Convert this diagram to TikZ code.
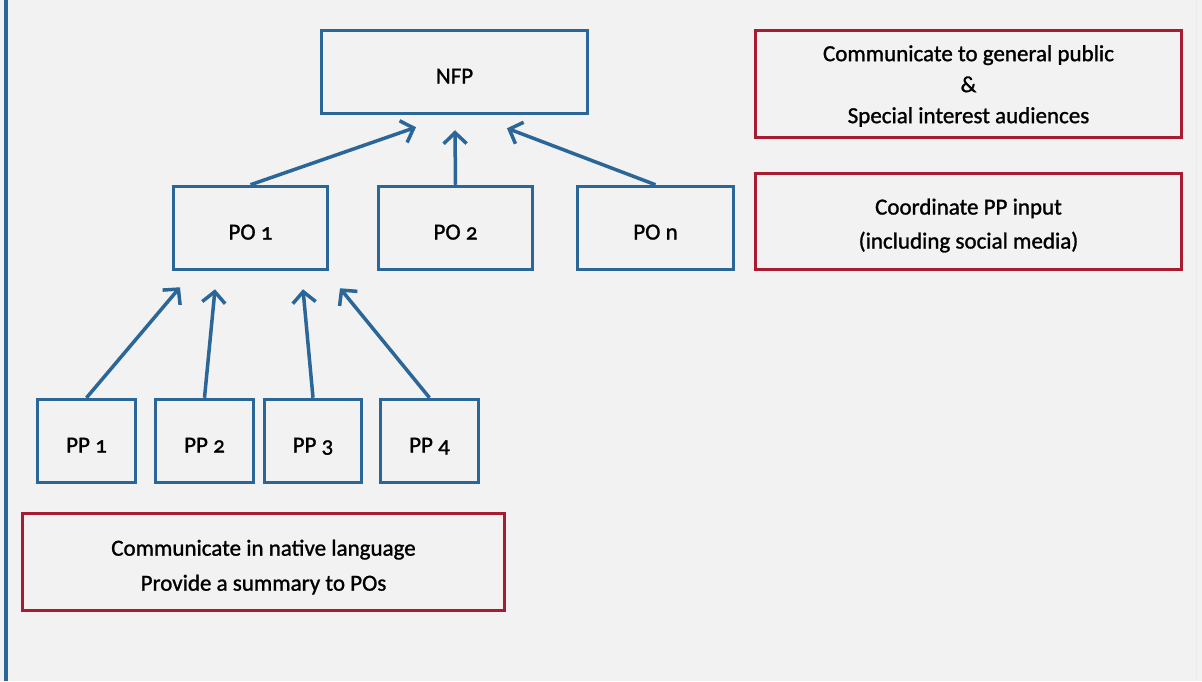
\documentclass[tikz,border=0pt]{standalone}
\usepackage{fontspec}
\setmainfont[Numbers=OldStyle,FakeBold=1.2]{Carlito}
\usetikzlibrary{arrows.meta,calc}
\definecolor{bg}{HTML}{F2F2F2}
\definecolor{blu}{HTML}{2A6698}
\definecolor{rd}{HTML}{A81C32}
\tikzset{
  bbox/.style={draw=blu,line width=3.5pt,inner sep=0pt,minimum height=83pt,align=center,
    text height=23pt,text depth=0pt,font=\fontsize{23}{27}\selectfont},
  rbox/.style={draw=rd,line width=3pt,inner sep=0pt,align=center},
  arr/.style={draw=blu,line width=3.5pt,-{Straight Barb[length=11pt,width=23pt,line width=3.5pt]}}
}
\begin{document}
\begin{tikzpicture}[x=1pt,y=-1pt]
\fill[bg] (0,0) rectangle (1202,681);
\useasboundingbox (0,0) rectangle (1202,681);
\draw[blu,line width=3.8pt] (5.7,0) -- (5.7,681);
\draw[black!8,line width=1pt] (1196.5,0) -- (1196.5,681);

\node[bbox,minimum width=266pt] (nfp) at (454.5,72) {NFP};
\node[bbox,minimum width=154pt] (po1) at (250.5,228) {PO 1};
\node[bbox,minimum width=154pt] (po2) at (455.5,228) {PO 2};
\node[bbox,minimum width=156pt] (pon) at (655.5,228) {PO n};

\node[bbox,minimum width=98pt] (pp1) at (86.5,441) {PP 1};
\node[bbox,minimum width=98pt] (pp2) at (204.5,441) {PP 2};
\node[bbox,minimum width=97pt] (pp3) at (313,441) {PP 3};
\node[bbox,minimum width=98pt] (pp4) at (429.5,441) {PP 4};

\node[rbox,minimum width=426pt,minimum height=107pt,font=\fontsize{23}{31}\selectfont] (r1) at (968.5,84)
  {\rule{0pt}{20pt}Communicate to general public\\ \&\\ Special interest audiences};
\node[rbox,minimum width=426pt,minimum height=96pt,font=\fontsize{23}{34}\selectfont] (r2) at (968.5,221.5)
  {\rule{0pt}{24pt}Coordinate PP input\\ (including social media)};
\node[rbox,minimum width=482pt,minimum height=97pt,font=\fontsize{23}{35}\selectfont] (r3) at (263.5,562)
  {\rule{0pt}{26pt}Communicate in native language\\ Provide a summary to POs};

\coordinate (t1) at ($(nfp.south)+(-38.5,12)$);
\coordinate (t2) at ($(nfp.south)+(0.5,15)$);
\coordinate (t3) at ($(nfp.south)+(52.5,13)$);
\draw[arr] (po1.north) -- (t1);
\draw[arr] (po2.north) -- (t2);
\draw[arr] (pon.north) -- (t3);

\coordinate (s1) at ($(po1.south)+(-70.5,16)$);
\coordinate (s2) at ($(po1.south)+(-35.5,18)$);
\coordinate (s3) at ($(po1.south)+(52.5,18)$);
\coordinate (s4) at ($(po1.south)+(89.5,17)$);
\draw[arr] (pp1.north) -- (s1);
\draw[arr] (pp2.north) -- (s2);
\draw[arr] (pp3.north) -- (s3);
\draw[arr] (pp4.north) -- (s4);
\end{tikzpicture}
\end{document}
